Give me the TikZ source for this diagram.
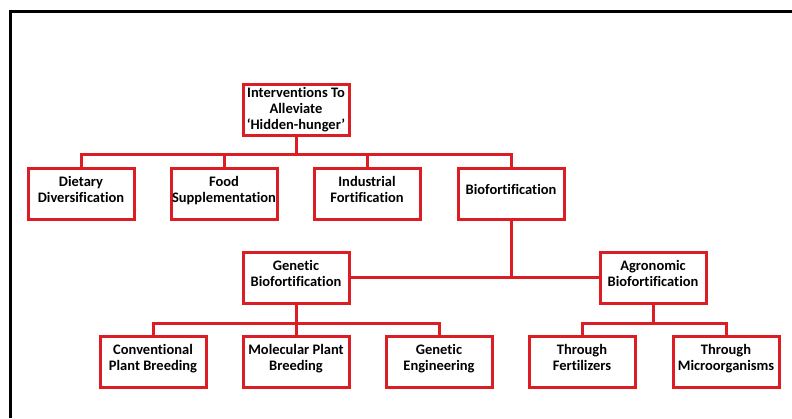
\documentclass[tikz,border=0pt]{standalone}
\usepackage{fontspec}
\setmainfont{Carlito}[Ligatures={NoCommon}]
\definecolor{boxred}{RGB}{220,30,36}
\tikzset{
  box/.style={draw=boxred, line width=3pt, minimum width=106pt, minimum height=51pt,
    inner sep=0pt, align=center, font=\bfseries\fontsize{14.5}{16}\selectfont,
    execute at end node={\rule[-#1]{0pt}{#1}}},
  box/.default=9pt,
  link/.style={draw=boxred, line width=3pt}
}
\begin{document}
\begin{tikzpicture}[x=1pt, y=-1pt]
\useasboundingbox (0,0) rectangle (792,418);
\draw[line width=3pt] (10,418) -- (10,11) -- (792,11);
\node[box=2pt] (root) at (296,109.5) {Interventions To\\Alleviate\\‘Hidden-hunger’};
\node[box] (diet) at (81,194) {Dietary\\Diversification};
\node[box] (food) at (224,194) {Food\\Supplementation};
\node[box] (indus) at (367,194) {Industrial\\Fortification};
\node[box] (bio) at (511,194) {Biofortification};
\node[box] (genbio) at (296,277.5) {Genetic\\Biofortification};
\node[box] (agrbio) at (653,277.5) {Agronomic\\Biofortification};
\node[box] (conv) at (153,361.5) {Conventional\\Plant Breeding};
\node[box] (molec) at (296,361.5) {Molecular Plant\\Breeding};
\node[box] (geneng) at (439,361.5) {Genetic\\Engineering};
\node[box] (fert) at (582,361.5) {Through\\Fertilizers};
\node[box] (micro) at (726,361.5) {Through\\Microorganisms};
\coordinate (bus1) at (0,154);
\coordinate (bus2) at (0,323);
\draw[link] (root.south) -- (root|-bus1);
\draw[link] (diet.north) |- (bus1-|bio) -- (bio.north);
\draw[link] (food.north) -- (food|-bus1);
\draw[link] (indus.north) -- (indus|-bus1);
\draw[link] (genbio.east) -- (agrbio.west);
\draw[link] (bio.south) -- (bio|-genbio.east);
\draw[link] (genbio.south) -- (molec.north);
\draw[link] (conv.north) |- (bus2-|geneng) -- (geneng.north);
\draw[link] (agrbio.south) -- (agrbio|-bus2);
\draw[link] (fert.north) |- (bus2-|micro) -- (micro.north);
\end{tikzpicture}
\end{document}
